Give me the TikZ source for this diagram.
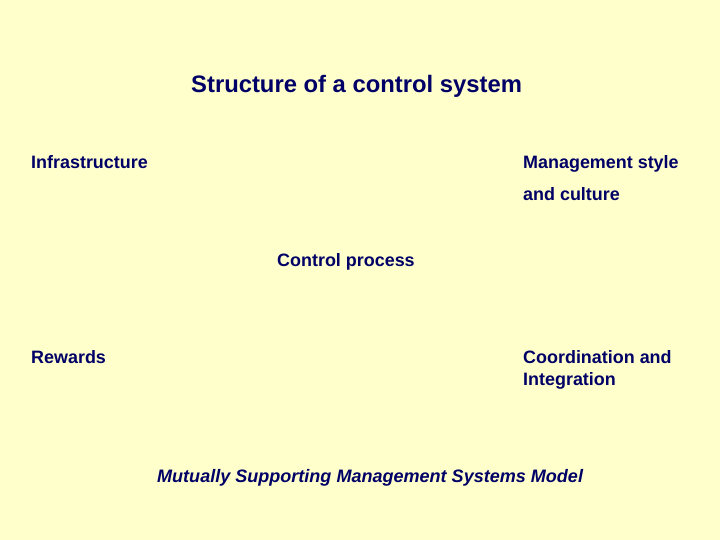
\documentclass[tikz,border=0pt]{standalone}
\usepackage{fontspec}
\setmainfont{Liberation Sans}
\definecolor{bg}{HTML}{FFFFCC}
\definecolor{ink}{HTML}{000066}
\begin{document}
\begin{tikzpicture}[x=1bp,y=-1bp,
  lbl/.style={anchor=base west,inner sep=0pt,text=ink,font=\bfseries\fontsize{18}{20}\selectfont}]
\fill[bg] (0,0) rectangle (720,540);
\node[lbl,font=\bfseries\fontsize{23.9}{27}\selectfont] (title) at (191,93) {Structure of a control system};
\node[lbl] (infra) at (31,169) {Infrastructure};
\node[lbl] (mgmt1) at (523,169) {Management style};
\node[lbl] (mgmt2) at (523,201) {and culture};
\node[lbl] (ctrl) at (277,267) {Control process};
\node[lbl] (rew) at (31,363) {Rewards};
\node[lbl] (coord1) at (523,363) {Coordination and};
\node[lbl] (coord2) at (523,385) {Integration};
\node[lbl,font=\bfseries\itshape\fontsize{18.1}{20}\selectfont] (model) at (157,482) {Mutually Supporting Management Systems Model};
\end{tikzpicture}
\end{document}
